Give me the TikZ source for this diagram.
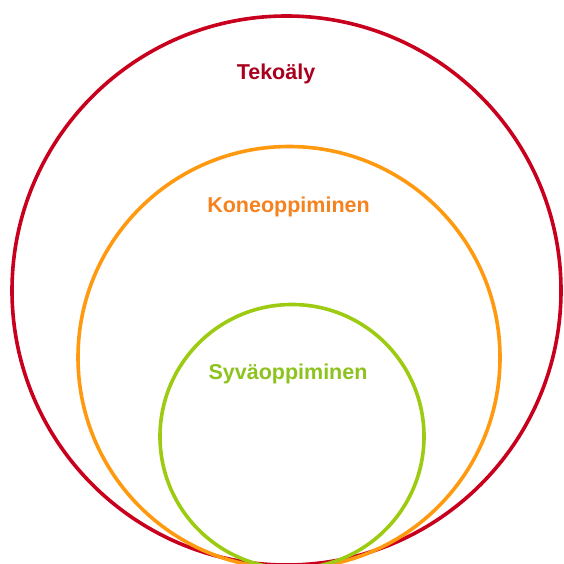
\documentclass[tikz,border=0pt]{standalone}
\usepackage{fontspec}
\setmainfont{Liberation Sans}
\usepackage{xcolor}
\usetikzlibrary{positioning}

\definecolor{aired}{HTML}{C8001E}
\definecolor{aitext}{HTML}{A8001E}
\definecolor{mlorange}{HTML}{FF9A10}
\definecolor{mltext}{HTML}{F5821F}
\definecolor{dlgreen}{HTML}{9CCB12}
\definecolor{dltext}{HTML}{8DC21F}

\begin{document}
\begin{tikzpicture}[
    x=1pt, y=-1pt,
    ring/.style={draw, circle, line width=3.6pt, inner sep=0pt},
    label/.style={font=\bfseries\fontsize{21.5}{25}\selectfont, inner sep=0pt}
  ]
  \useasboundingbox (0,0) rectangle (563,564);

  % Circles
  \node[ring, draw=aired, minimum size=549pt] (ai) at (286.5,290.5) {};
  \node[ring, draw=mlorange, minimum size=422pt] (ml) at (289,357.5) {};
  \node[ring, draw=dlgreen, minimum size=264pt] (dl) at (292,436.5) {};

  % Labels
  \node[label, text=aitext] (aitxt) at (276,74) {Tekoäly};
  \node[label, text=mltext] (mltxt) at (288.5,207) {Koneoppiminen};
  \node[label, text=dltext] (dltxt) at (288,374) {Syväoppiminen};
\end{tikzpicture}
\end{document}
